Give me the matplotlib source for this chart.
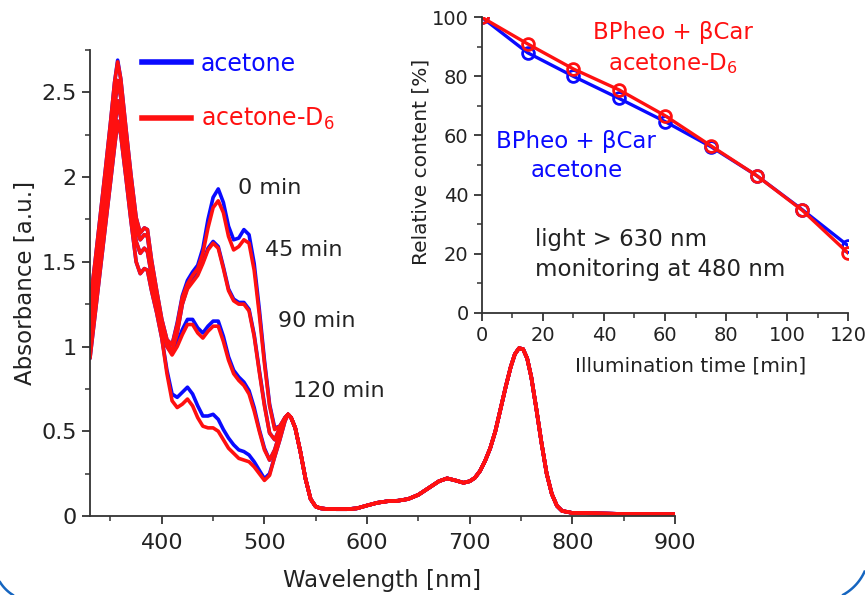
import numpy as np
import matplotlib
matplotlib.use("Agg")
import matplotlib.pyplot as plt
from matplotlib.lines import Line2D
from matplotlib.transforms import IdentityTransform
from matplotlib.ticker import MultipleLocator

# wavelength grid (nm) for the carotenoid / Soret region
wl_uv = [330, 335, 340, 345, 350, 354, 357, 360, 365, 370,
         375, 379, 383, 386, 390, 395, 400, 405, 410, 415,
         420, 425, 430, 435, 440, 445, 450, 455, 460, 465,
         470, 475, 480, 485, 490, 495, 500, 505, 510, 515,
         520, 523, 526, 530, 535, 540, 545, 550]

# acetone, 0 / 45 / 90 / 120 min
b0 = [1.25, 1.50, 1.77, 2.04, 2.32, 2.56, 2.69, 2.58, 2.29, 2.01,
      1.76, 1.67, 1.70, 1.69, 1.51, 1.33, 1.16, 1.04, 1.01, 1.14,
      1.30, 1.39, 1.44, 1.48, 1.58, 1.75, 1.88, 1.93, 1.85, 1.71,
      1.63, 1.64, 1.69, 1.66, 1.49, 1.22, 0.92, 0.66, 0.52, 0.53,
      0.58, 0.60, 0.58, 0.52, 0.38, 0.22, 0.10, 0.055]
b45 = [1.15, 1.40, 1.66, 1.92, 2.18, 2.41, 2.57, 2.47, 2.19, 1.92,
       1.70, 1.63, 1.66, 1.65, 1.48, 1.30, 1.14, 1.02, 0.97, 1.08,
       1.25, 1.35, 1.39, 1.43, 1.50, 1.58, 1.62, 1.59, 1.47, 1.34,
       1.28, 1.26, 1.26, 1.22, 1.07, 0.86, 0.66, 0.49, 0.45, 0.52,
       0.58, 0.60, 0.58, 0.52, 0.38, 0.22, 0.10, 0.055]
b90 = [1.03, 1.29, 1.55, 1.80, 2.05, 2.28, 2.45, 2.35, 2.10, 1.85,
       1.62, 1.55, 1.58, 1.56, 1.42, 1.26, 1.11, 1.00, 0.96, 1.02,
       1.10, 1.16, 1.16, 1.11, 1.08, 1.12, 1.15, 1.15, 1.06, 0.94,
       0.86, 0.82, 0.79, 0.74, 0.64, 0.51, 0.40, 0.33, 0.39, 0.49,
       0.57, 0.60, 0.58, 0.52, 0.38, 0.22, 0.10, 0.055]
b120 = [0.93, 1.19, 1.45, 1.71, 1.97, 2.18, 2.33, 2.25, 2.00, 1.74,
        1.50, 1.43, 1.46, 1.45, 1.33, 1.20, 1.05, 0.86, 0.72, 0.70,
        0.73, 0.76, 0.72, 0.65, 0.59, 0.59, 0.60, 0.57, 0.51, 0.46,
        0.42, 0.39, 0.38, 0.36, 0.32, 0.27, 0.22, 0.25, 0.35, 0.45,
        0.56, 0.60, 0.58, 0.52, 0.38, 0.22, 0.10, 0.055]

# acetone-D6, 0 / 45 / 90 / 120 min
r0 = [1.25, 1.50, 1.77, 2.04, 2.32, 2.56, 2.68, 2.58, 2.29, 2.01,
      1.76, 1.67, 1.70, 1.69, 1.51, 1.33, 1.16, 1.04, 1.01, 1.13,
      1.29, 1.37, 1.42, 1.46, 1.55, 1.70, 1.82, 1.86, 1.79, 1.65,
      1.57, 1.59, 1.63, 1.61, 1.45, 1.19, 0.90, 0.65, 0.51, 0.53,
      0.58, 0.60, 0.58, 0.52, 0.38, 0.22, 0.10, 0.055]
r45 = [1.15, 1.40, 1.66, 1.92, 2.18, 2.41, 2.57, 2.47, 2.19, 1.92,
       1.70, 1.63, 1.66, 1.65, 1.48, 1.30, 1.14, 1.02, 0.97, 1.08,
       1.25, 1.34, 1.38, 1.42, 1.49, 1.57, 1.61, 1.58, 1.46, 1.33,
       1.27, 1.25, 1.25, 1.21, 1.06, 0.85, 0.65, 0.49, 0.45, 0.52,
       0.58, 0.60, 0.58, 0.52, 0.38, 0.22, 0.10, 0.055]
r90 = [1.03, 1.29, 1.55, 1.80, 2.05, 2.28, 2.45, 2.35, 2.10, 1.85,
       1.62, 1.55, 1.58, 1.56, 1.42, 1.26, 1.11, 1.00, 0.95, 1.00,
       1.07, 1.13, 1.13, 1.08, 1.05, 1.09, 1.12, 1.12, 1.03, 0.92,
       0.84, 0.80, 0.77, 0.72, 0.62, 0.50, 0.39, 0.33, 0.39, 0.49,
       0.57, 0.60, 0.58, 0.52, 0.38, 0.22, 0.10, 0.055]
r120 = [0.93, 1.19, 1.45, 1.71, 1.97, 2.18, 2.33, 2.25, 2.00, 1.74,
        1.50, 1.43, 1.46, 1.45, 1.33, 1.20, 1.05, 0.84, 0.68, 0.64,
        0.66, 0.69, 0.65, 0.58, 0.53, 0.52, 0.52, 0.50, 0.45, 0.40,
        0.37, 0.34, 0.33, 0.32, 0.29, 0.25, 0.21, 0.24, 0.35, 0.45,
        0.56, 0.60, 0.58, 0.52, 0.38, 0.22, 0.10, 0.055]

# Q-band region, identical for all spectra
wl_tail = [555, 560, 570, 580, 590, 600, 610, 620, 630, 640,
           650, 660, 670, 678, 686, 694, 700, 705, 710, 715,
           720, 725, 730, 735, 740, 744, 748, 752, 756, 760,
           765, 770, 775, 780, 785, 790, 800, 850, 900]
a_tail = [0.045, 0.042, 0.040, 0.040, 0.045, 0.062, 0.078, 0.087, 0.090, 0.100,
          0.125, 0.165, 0.205, 0.222, 0.210, 0.196, 0.205, 0.225, 0.265, 0.325,
          0.400, 0.500, 0.630, 0.760, 0.880, 0.955, 0.990, 0.985, 0.930, 0.820,
          0.630, 0.430, 0.250, 0.130, 0.060, 0.030, 0.018, 0.012, 0.010]

time_labels = ["0 min", "45 min", "90 min", "120 min"]
label_pos = [(474, 1.936), (501, 1.57), (513, 1.15), (528, 0.74)]

# inset: relative content at 480 nm
t_ill = [0, 15, 30, 45, 60, 75, 90, 105, 120]
rel_acetone = [100, 88.0, 80.0, 72.5, 64.7, 56.2, 46.4, 34.8, 22.6]
rel_d6 = [100, 91.0, 82.5, 75.4, 66.7, 56.5, 46.4, 34.6, 20.1]

BLUE = "#0a0aff"
RED = "#ff1010"
TXT = "#222222"

wl = np.array(wl_uv + wl_tail)

fig = plt.figure(figsize=(8.65, 5.95), dpi=100)
ax = fig.add_axes([0.1040, 0.1328, 0.6763, 0.7832])

for spec in (b0, b45, b90, b120):
    ax.plot(wl, spec + a_tail, color=BLUE, lw=2.6, solid_capstyle="round")
for spec in (r0, r45, r90, r120):
    ax.plot(wl, spec + a_tail, color=RED, lw=2.6, solid_capstyle="round")

for lab, (x, y) in zip(time_labels, label_pos):
    ax.text(x, y, lab, fontsize=16, color=TXT, va="center", ha="left")

ax.set_xlim(330, 900)
ax.set_ylim(0, 2.75)
ax.xaxis.set_major_locator(MultipleLocator(100))
ax.xaxis.set_minor_locator(MultipleLocator(50))
ax.yaxis.set_major_locator(MultipleLocator(0.5))
ax.yaxis.set_minor_locator(MultipleLocator(0.25))
ax.set_yticks([0, 0.5, 1, 1.5, 2, 2.5], ["0", "0.5", "1", "1.5", "2", "2.5"])
ax.set_xlabel("Wavelength [nm]", fontsize=16.5, color=TXT, labelpad=12)
ax.set_ylabel("Absorbance [a.u.]", fontsize=16.5, color=TXT, labelpad=3)

handles = [Line2D([], [], color=BLUE, lw=4), Line2D([], [], color=RED, lw=4)]
ax.legend(handles, ["acetone", "acetone-D$_6$"], loc="upper left",
          bbox_to_anchor=(0.072, 1.017), frameon=False, fontsize=17,
          labelcolor=[BLUE, RED], handlelength=2.1, handletextpad=0.4,
          labelspacing=1.3, borderaxespad=0)

# inset
ins = fig.add_axes([0.5569, 0.4745, 0.4238, 0.4965])
ins.patch.set_alpha(0)
ins.plot(t_ill, rel_acetone, color=BLUE, lw=2.4, marker="o", ms=8.5,
         mfc="none", mew=2)
ins.plot(t_ill, rel_d6, color=RED, lw=2.4, marker="o", ms=8.5,
         mfc="none", mew=2)
ins.set_xlim(0, 120)
ins.set_ylim(0, 100)
ins.xaxis.set_major_locator(MultipleLocator(20))
ins.xaxis.set_minor_locator(MultipleLocator(10))
ins.yaxis.set_major_locator(MultipleLocator(20))
ins.yaxis.set_minor_locator(MultipleLocator(10))
ins.set_xlabel("Illumination time [min]", fontsize=14.5, color=TXT)
ins.set_ylabel("Relative content [%]", fontsize=14.5, color=TXT)
ins.xaxis.set_label_coords(0.571, -0.15)
ins.yaxis.set_label_coords(-0.14, 0.51)
ins.text(62.6, 89.5, "BPheo + βCar\nacetone-D$_6$", color=RED, fontsize=16.5,
         ha="center", va="center", linespacing=1.35)
ins.text(31, 53, "BPheo + βCar\nacetone", color=BLUE, fontsize=16.5,
         ha="center", va="center", linespacing=1.35)
ins.text(17.4, 19.8, "light > 630 nm\nmonitoring at 480 nm", color=TXT,
         fontsize=16.5, ha="left", va="center", linespacing=1.4)

for a, fs in ((ax, 16), (ins, 14)):
    for side in ("top", "right"):
        a.spines[side].set_visible(False)
    for side in ("left", "bottom"):
        a.spines[side].set_color("#333333")
        a.spines[side].set_linewidth(1.3)
    a.tick_params(which="major", direction="out", length=6, width=1.3,
                  color="#333333", labelsize=fs, labelcolor=TXT)
    a.tick_params(which="minor", direction="out", length=3.5, width=1.1,
                  color="#333333")
ax.tick_params(axis="x", which="major", pad=6)

# bottom corners of the rounded blue frame around the picture (pixels)
W, H = 865, 595
for cx, cy, r, th0 in ((34, 34, 40, 180), (W - 46, 44, 50, 270)):
    th = np.radians(np.linspace(th0, th0 + 90, 60))
    px = cx + r * np.cos(th)
    py = cy + r * np.sin(th)
    keep = (px >= 0) & (px <= W) & (py >= 0)
    fig.add_artist(Line2D(px[keep], py[keep], color="#1565c0", lw=1.8,
                          transform=IdentityTransform()))

fig.savefig("out.png", dpi=100)
